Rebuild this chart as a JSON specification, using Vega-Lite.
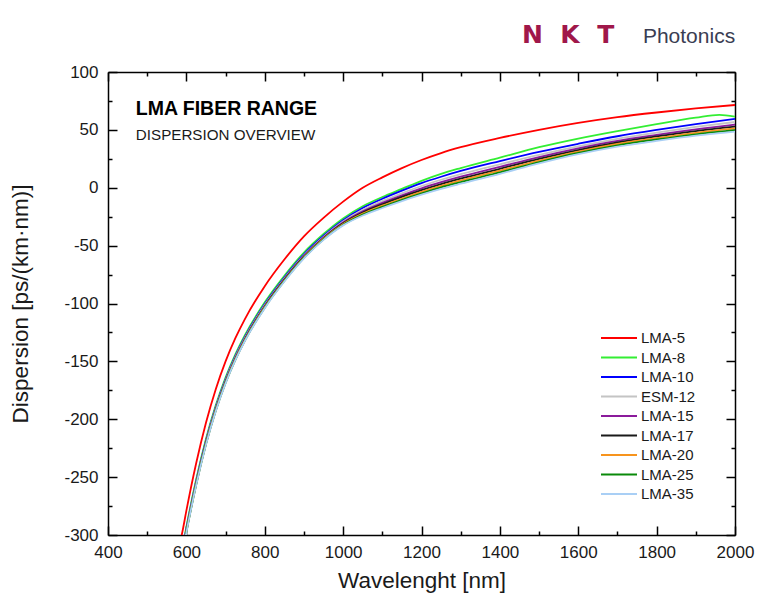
{
  "$schema": "https://vega.github.io/schema/vega-lite/v6.json",
  "width": 627,
  "height": 463,
  "autosize": {"type": "none"},
  "padding": {"left": 108, "top": 72, "right": 22, "bottom": 71},
  "background": "#ffffff",
  "config": {"view": {"stroke": null}, "font": "Liberation Sans"},
  "resolve": {"axis": {"x": "independent", "y": "independent"}},
  "layer": [
    {
      "data": {"values": [
        {"s":"LMA-5","w":585,"d":-305},{"s":"LMA-5","w":590,"d":-297},{"s":"LMA-5","w":600,"d":-279},{"s":"LMA-5","w":625,"d":-238},{"s":"LMA-5","w":650,"d":-203},{"s":"LMA-5","w":675,"d":-174},{"s":"LMA-5","w":700,"d":-150},{"s":"LMA-5","w":725,"d":-130},{"s":"LMA-5","w":750,"d":-113},{"s":"LMA-5","w":800,"d":-85},{"s":"LMA-5","w":850,"d":-62},{"s":"LMA-5","w":900,"d":-42},{"s":"LMA-5","w":950,"d":-26},{"s":"LMA-5","w":1000,"d":-12},{"s":"LMA-5","w":1050,"d":0},{"s":"LMA-5","w":1100,"d":9},{"s":"LMA-5","w":1150,"d":17},{"s":"LMA-5","w":1200,"d":24},{"s":"LMA-5","w":1250,"d":30},{"s":"LMA-5","w":1300,"d":35},{"s":"LMA-5","w":1400,"d":43},{"s":"LMA-5","w":1500,"d":50},{"s":"LMA-5","w":1600,"d":56},{"s":"LMA-5","w":1700,"d":61},{"s":"LMA-5","w":1800,"d":65},{"s":"LMA-5","w":1900,"d":68.5},{"s":"LMA-5","w":2000,"d":71.5},
        {"s":"LMA-8","w":585,"d":-319},{"s":"LMA-8","w":590,"d":-311},{"s":"LMA-8","w":600,"d":-293},{"s":"LMA-8","w":625,"d":-252},{"s":"LMA-8","w":650,"d":-217},{"s":"LMA-8","w":675,"d":-188},{"s":"LMA-8","w":700,"d":-164},{"s":"LMA-8","w":725,"d":-144},{"s":"LMA-8","w":750,"d":-127},{"s":"LMA-8","w":800,"d":-99},{"s":"LMA-8","w":850,"d":-76},{"s":"LMA-8","w":900,"d":-56},{"s":"LMA-8","w":950,"d":-40},{"s":"LMA-8","w":1000,"d":-26.5},{"s":"LMA-8","w":1050,"d":-16},{"s":"LMA-8","w":1100,"d":-8},{"s":"LMA-8","w":1150,"d":-1},{"s":"LMA-8","w":1200,"d":6},{"s":"LMA-8","w":1250,"d":12},{"s":"LMA-8","w":1300,"d":17},{"s":"LMA-8","w":1400,"d":26},{"s":"LMA-8","w":1500,"d":35},{"s":"LMA-8","w":1600,"d":42.5},{"s":"LMA-8","w":1700,"d":49},{"s":"LMA-8","w":1800,"d":55},{"s":"LMA-8","w":1900,"d":60.5},{"s":"LMA-8","w":1960,"d":63},{"s":"LMA-8","w":2000,"d":61.5},
        {"s":"LMA-10","w":585,"d":-320.5},{"s":"LMA-10","w":590,"d":-312.5},{"s":"LMA-10","w":600,"d":-294.5},{"s":"LMA-10","w":625,"d":-253.5},{"s":"LMA-10","w":650,"d":-218.5},{"s":"LMA-10","w":675,"d":-189.5},{"s":"LMA-10","w":700,"d":-165.5},{"s":"LMA-10","w":725,"d":-145.5},{"s":"LMA-10","w":750,"d":-128.5},{"s":"LMA-10","w":800,"d":-100.5},{"s":"LMA-10","w":850,"d":-77.5},{"s":"LMA-10","w":900,"d":-57.5},{"s":"LMA-10","w":950,"d":-41.5},{"s":"LMA-10","w":1000,"d":-28},{"s":"LMA-10","w":1050,"d":-17.5},{"s":"LMA-10","w":1100,"d":-9.5},{"s":"LMA-10","w":1150,"d":-2.5},{"s":"LMA-10","w":1200,"d":4},{"s":"LMA-10","w":1250,"d":9.5},{"s":"LMA-10","w":1300,"d":14.5},{"s":"LMA-10","w":1400,"d":23},{"s":"LMA-10","w":1500,"d":31},{"s":"LMA-10","w":1600,"d":38},{"s":"LMA-10","w":1700,"d":44.5},{"s":"LMA-10","w":1800,"d":50},{"s":"LMA-10","w":1900,"d":55},{"s":"LMA-10","w":2000,"d":59.5},
        {"s":"ESM-12","w":585,"d":-321.4},{"s":"ESM-12","w":590,"d":-313.4},{"s":"ESM-12","w":600,"d":-295.4},{"s":"ESM-12","w":625,"d":-254.4},{"s":"ESM-12","w":650,"d":-219.4},{"s":"ESM-12","w":675,"d":-190.4},{"s":"ESM-12","w":700,"d":-166.4},{"s":"ESM-12","w":725,"d":-146.4},{"s":"ESM-12","w":750,"d":-129.4},{"s":"ESM-12","w":800,"d":-101.4},{"s":"ESM-12","w":850,"d":-78.4},{"s":"ESM-12","w":900,"d":-58.4},{"s":"ESM-12","w":950,"d":-42.4},{"s":"ESM-12","w":1000,"d":-29.1},{"s":"ESM-12","w":1050,"d":-19.1},{"s":"ESM-12","w":1100,"d":-11.5},{"s":"ESM-12","w":1150,"d":-4.8},{"s":"ESM-12","w":1200,"d":1.5},{"s":"ESM-12","w":1250,"d":6.9},{"s":"ESM-12","w":1300,"d":11.8},{"s":"ESM-12","w":1400,"d":20.3},{"s":"ESM-12","w":1500,"d":28.5},{"s":"ESM-12","w":1600,"d":35.8},{"s":"ESM-12","w":1700,"d":42.3},{"s":"ESM-12","w":1800,"d":47.6},{"s":"ESM-12","w":1900,"d":52.5},{"s":"ESM-12","w":2000,"d":56.8},
        {"s":"LMA-15","w":585,"d":-322.1},{"s":"LMA-15","w":590,"d":-314.1},{"s":"LMA-15","w":600,"d":-296.1},{"s":"LMA-15","w":625,"d":-255.1},{"s":"LMA-15","w":650,"d":-220.1},{"s":"LMA-15","w":675,"d":-191.1},{"s":"LMA-15","w":700,"d":-167.1},{"s":"LMA-15","w":725,"d":-147.1},{"s":"LMA-15","w":750,"d":-130.1},{"s":"LMA-15","w":800,"d":-102.1},{"s":"LMA-15","w":850,"d":-79.1},{"s":"LMA-15","w":900,"d":-59.1},{"s":"LMA-15","w":950,"d":-43.1},{"s":"LMA-15","w":1000,"d":-30},{"s":"LMA-15","w":1050,"d":-20.4},{"s":"LMA-15","w":1100,"d":-13.1},{"s":"LMA-15","w":1150,"d":-6.6},{"s":"LMA-15","w":1200,"d":-0.5},{"s":"LMA-15","w":1250,"d":4.8},{"s":"LMA-15","w":1300,"d":9.6},{"s":"LMA-15","w":1400,"d":18.1},{"s":"LMA-15","w":1500,"d":26.5},{"s":"LMA-15","w":1600,"d":34},{"s":"LMA-15","w":1700,"d":40.5},{"s":"LMA-15","w":1800,"d":45.7},{"s":"LMA-15","w":1900,"d":50.5},{"s":"LMA-15","w":2000,"d":54.6},
        {"s":"LMA-17","w":585,"d":-322.6},{"s":"LMA-17","w":590,"d":-314.6},{"s":"LMA-17","w":600,"d":-296.6},{"s":"LMA-17","w":625,"d":-255.6},{"s":"LMA-17","w":650,"d":-220.6},{"s":"LMA-17","w":675,"d":-191.6},{"s":"LMA-17","w":700,"d":-167.6},{"s":"LMA-17","w":725,"d":-147.6},{"s":"LMA-17","w":750,"d":-130.6},{"s":"LMA-17","w":800,"d":-102.6},{"s":"LMA-17","w":850,"d":-79.6},{"s":"LMA-17","w":900,"d":-59.6},{"s":"LMA-17","w":950,"d":-43.6},{"s":"LMA-17","w":1000,"d":-30.7},{"s":"LMA-17","w":1050,"d":-21.4},{"s":"LMA-17","w":1100,"d":-14.3},{"s":"LMA-17","w":1150,"d":-7.9},{"s":"LMA-17","w":1200,"d":-2},{"s":"LMA-17","w":1250,"d":3.2},{"s":"LMA-17","w":1300,"d":7.9},{"s":"LMA-17","w":1400,"d":16.4},{"s":"LMA-17","w":1500,"d":25},{"s":"LMA-17","w":1600,"d":32.6},{"s":"LMA-17","w":1700,"d":39.1},{"s":"LMA-17","w":1800,"d":44.3},{"s":"LMA-17","w":1900,"d":49},{"s":"LMA-17","w":2000,"d":52.9},
        {"s":"LMA-20","w":585,"d":-323.1},{"s":"LMA-20","w":590,"d":-315.1},{"s":"LMA-20","w":600,"d":-297.1},{"s":"LMA-20","w":625,"d":-256.1},{"s":"LMA-20","w":650,"d":-221.1},{"s":"LMA-20","w":675,"d":-192.1},{"s":"LMA-20","w":700,"d":-168.1},{"s":"LMA-20","w":725,"d":-148.1},{"s":"LMA-20","w":750,"d":-131.1},{"s":"LMA-20","w":800,"d":-103.1},{"s":"LMA-20","w":850,"d":-80.1},{"s":"LMA-20","w":900,"d":-60.1},{"s":"LMA-20","w":950,"d":-44.1},{"s":"LMA-20","w":1000,"d":-31.4},{"s":"LMA-20","w":1050,"d":-22.4},{"s":"LMA-20","w":1100,"d":-15.5},{"s":"LMA-20","w":1150,"d":-9.3},{"s":"LMA-20","w":1200,"d":-3.5},{"s":"LMA-20","w":1250,"d":1.6},{"s":"LMA-20","w":1300,"d":6.3},{"s":"LMA-20","w":1400,"d":14.8},{"s":"LMA-20","w":1500,"d":23.5},{"s":"LMA-20","w":1600,"d":31.3},{"s":"LMA-20","w":1700,"d":37.8},{"s":"LMA-20","w":1800,"d":42.9},{"s":"LMA-20","w":1900,"d":47.5},{"s":"LMA-20","w":2000,"d":51.3},
        {"s":"LMA-25","w":585,"d":-323.6},{"s":"LMA-25","w":590,"d":-315.6},{"s":"LMA-25","w":600,"d":-297.6},{"s":"LMA-25","w":625,"d":-256.6},{"s":"LMA-25","w":650,"d":-221.6},{"s":"LMA-25","w":675,"d":-192.6},{"s":"LMA-25","w":700,"d":-168.6},{"s":"LMA-25","w":725,"d":-148.6},{"s":"LMA-25","w":750,"d":-131.6},{"s":"LMA-25","w":800,"d":-103.6},{"s":"LMA-25","w":850,"d":-80.6},{"s":"LMA-25","w":900,"d":-60.6},{"s":"LMA-25","w":950,"d":-44.6},{"s":"LMA-25","w":1000,"d":-32},{"s":"LMA-25","w":1050,"d":-23.2},{"s":"LMA-25","w":1100,"d":-16.5},{"s":"LMA-25","w":1150,"d":-10.4},{"s":"LMA-25","w":1200,"d":-4.8},{"s":"LMA-25","w":1250,"d":0.3},{"s":"LMA-25","w":1300,"d":4.8},{"s":"LMA-25","w":1400,"d":13.3},{"s":"LMA-25","w":1500,"d":22.2},{"s":"LMA-25","w":1600,"d":30.1},{"s":"LMA-25","w":1700,"d":36.6},{"s":"LMA-25","w":1800,"d":41.7},{"s":"LMA-25","w":1900,"d":46.2},{"s":"LMA-25","w":2000,"d":49.8},
        {"s":"LMA-35","w":585,"d":-324},{"s":"LMA-35","w":590,"d":-316},{"s":"LMA-35","w":600,"d":-298},{"s":"LMA-35","w":625,"d":-257},{"s":"LMA-35","w":650,"d":-222},{"s":"LMA-35","w":675,"d":-193},{"s":"LMA-35","w":700,"d":-169},{"s":"LMA-35","w":725,"d":-149},{"s":"LMA-35","w":750,"d":-132},{"s":"LMA-35","w":800,"d":-104},{"s":"LMA-35","w":850,"d":-81},{"s":"LMA-35","w":900,"d":-61},{"s":"LMA-35","w":950,"d":-45},{"s":"LMA-35","w":1000,"d":-32.5},{"s":"LMA-35","w":1050,"d":-24},{"s":"LMA-35","w":1100,"d":-17.5},{"s":"LMA-35","w":1150,"d":-11.5},{"s":"LMA-35","w":1200,"d":-6},{"s":"LMA-35","w":1250,"d":-1},{"s":"LMA-35","w":1300,"d":3.5},{"s":"LMA-35","w":1400,"d":12},{"s":"LMA-35","w":1500,"d":21},{"s":"LMA-35","w":1600,"d":29},{"s":"LMA-35","w":1700,"d":35.5},{"s":"LMA-35","w":1800,"d":40.5},{"s":"LMA-35","w":1900,"d":45},{"s":"LMA-35","w":2000,"d":48.5}
      ]},
      "mark": {"type": "line", "clip": true, "strokeWidth": 1.8, "interpolate": "monotone"},
      "encoding": {
        "x": {"field": "w", "type": "quantitative",
          "scale": {"domain": [400, 2000], "nice": false, "zero": false},
          "axis": {"orient": "bottom", "values": [400,500,600,700,800,900,1000,1100,1200,1300,1400,1500,1600,1700,1800,1900,2000],
            "labelExpr": "datum.value % 200 === 0 ? '' + datum.value : ''",
            "tickSize": {"condition": {"test": "datum.value % 200 === 0", "value": -9}, "value": -4},
            "tickWidth": 1.5, "tickColor": "#000", "domainColor": "#000", "domainWidth": 1.5,
            "labelFont": "Liberation Sans", "labelFontSize": 17, "labelColor": "#1a1a1a", "labelPadding": 18,
            "labelOverlap": false, "labelFlush": false, "grid": false,
            "title": "Wavelenght [nm]", "titleFont": "Liberation Sans", "titleFontSize": 22.5, "titleFontWeight": "normal", "titleColor": "#1a1a1a", "titlePadding": 4}},
        "y": {"field": "d", "type": "quantitative",
          "scale": {"domain": [-300, 100], "nice": false, "zero": false},
          "axis": {"orient": "left", "values": [-300,-275,-250,-225,-200,-175,-150,-125,-100,-75,-50,-25,0,25,50,75,100],
            "labelExpr": "datum.value % 50 === 0 ? '' + datum.value : ''",
            "tickSize": {"condition": {"test": "datum.value % 50 === 0", "value": -9}, "value": -4},
            "tickWidth": 1.5, "tickColor": "#000", "domainColor": "#000", "domainWidth": 1.5,
            "labelFont": "Liberation Sans", "labelFontSize": 17, "labelColor": "#1a1a1a", "labelPadding": 19,
            "labelOverlap": false, "labelFlush": false, "grid": false,
            "title": "Dispersion [ps/(km·nm)]", "titleFont": "Liberation Sans", "titleFontSize": 22.5, "titleFontWeight": "normal", "titleColor": "#1a1a1a", "titlePadding": 31}},
        "color": {"field": "s", "type": "nominal",
          "scale": {"domain": ["LMA-5","LMA-8","LMA-10","ESM-12","LMA-15","LMA-17","LMA-20","LMA-25","LMA-35"],
                    "range": ["#ff0000","#33ee33","#0000ff","#c4c4c4","#8b1a9b","#1a1a1a","#f7941d","#0a8a0a","#a9cff5"]},
          "legend": {"orient": "none", "legendX": 501, "legendY": 256, "title": null, "symbolType": "M-2,0L2,0", "symbolSize": 324, "symbolStrokeWidth": 2,
            "labelFont": "Liberation Sans", "labelFontSize": 15, "labelColor": "#1a1a1a", "labelOffset": 12, "rowPadding": 1.5, "padding": 0}}
      }
    },
    {
      "mark": {"type": "rule", "color": "#000", "strokeWidth": 1.5},
      "encoding": {
        "x": {"datum": 400, "type": "quantitative",
          "scale": {"domain": [400, 2000], "nice": false, "zero": false},
          "axis": {"orient": "top", "values": [400,500,600,700,800,900,1000,1100,1200,1300,1400,1500,1600,1700,1800,1900,2000],
            "labels": false, "title": null, "grid": false,
            "tickSize": {"condition": {"test": "datum.value % 200 === 0", "value": -9}, "value": -4},
            "tickWidth": 1.5, "tickColor": "#000", "domainColor": "#000", "domainWidth": 1.5}},
        "x2": {"datum": 2000},
        "y": {"datum": 0, "type": "quantitative",
          "scale": {"domain": [-300, 100], "nice": false, "zero": false},
          "axis": {"orient": "right", "values": [-300,-275,-250,-225,-200,-175,-150,-125,-100,-75,-50,-25,0,25,50,75,100],
            "labels": false, "title": null, "grid": false,
            "tickSize": {"condition": {"test": "datum.value % 50 === 0", "value": -9}, "value": -4},
            "tickWidth": 1.5, "tickColor": "#000", "domainColor": "#000", "domainWidth": 1.5}}
      }
    },
    {
      "data": {"values": [{}]},
      "mark": {"type": "text", "align": "left", "baseline": "alphabetic", "font": "Liberation Sans", "fontSize": 19.5, "fontWeight": "bold", "fill": "#000"},
      "encoding": {
        "x": {"datum": 471, "type": "quantitative", "scale": {"domain": [400, 2000], "nice": false, "zero": false}, "axis": null},
        "y": {"datum": 63, "type": "quantitative", "scale": {"domain": [-300, 100], "nice": false, "zero": false}, "axis": null},
        "text": {"value": "LMA FIBER RANGE"}
      }
    },
    {
      "data": {"values": [{}]},
      "mark": {"type": "text", "align": "left", "baseline": "alphabetic", "font": "Liberation Sans", "fontSize": 15.2, "fill": "#1a1a1a"},
      "encoding": {
        "x": {"datum": 471, "type": "quantitative", "scale": {"domain": [400, 2000], "nice": false, "zero": false}, "axis": null},
        "y": {"datum": 41.5, "type": "quantitative", "scale": {"domain": [-300, 100], "nice": false, "zero": false}, "axis": null},
        "text": {"value": "DISPERSION OVERVIEW"}
      }
    },
    {
      "data": {"values": [{}]},
      "mark": {"type": "text", "align": "center", "baseline": "alphabetic", "font": "DejaVu Sans", "fontSize": 25, "fontWeight": "bold", "fill": "#a0174a"},
      "encoding": {
        "x": {"datum": 1483, "type": "quantitative", "scale": {"domain": [400, 2000], "nice": false, "zero": false}, "axis": null},
        "y": {"datum": 125, "type": "quantitative", "scale": {"domain": [-300, 100], "nice": false, "zero": false}, "axis": null},
        "text": {"value": "N"}
      }
    },
    {
      "data": {"values": [{}]},
      "mark": {"type": "text", "align": "center", "baseline": "alphabetic", "font": "DejaVu Sans", "fontSize": 25, "fontWeight": "bold", "fill": "#a0174a"},
      "encoding": {
        "x": {"datum": 1579, "type": "quantitative", "scale": {"domain": [400, 2000], "nice": false, "zero": false}, "axis": null},
        "y": {"datum": 125, "type": "quantitative", "scale": {"domain": [-300, 100], "nice": false, "zero": false}, "axis": null},
        "text": {"value": "K"}
      }
    },
    {
      "data": {"values": [{}]},
      "mark": {"type": "text", "align": "center", "baseline": "alphabetic", "font": "DejaVu Sans", "fontSize": 25, "fontWeight": "bold", "fill": "#a0174a"},
      "encoding": {
        "x": {"datum": 1670, "type": "quantitative", "scale": {"domain": [400, 2000], "nice": false, "zero": false}, "axis": null},
        "y": {"datum": 125, "type": "quantitative", "scale": {"domain": [-300, 100], "nice": false, "zero": false}, "axis": null},
        "text": {"value": "T"}
      }
    },
    {
      "data": {"values": [{}]},
      "mark": {"type": "text", "align": "left", "baseline": "alphabetic", "font": "Liberation Sans", "fontSize": 21, "fill": "#3a3d52"},
      "encoding": {
        "x": {"datum": 1765, "type": "quantitative", "scale": {"domain": [400, 2000], "nice": false, "zero": false}, "axis": null},
        "y": {"datum": 125, "type": "quantitative", "scale": {"domain": [-300, 100], "nice": false, "zero": false}, "axis": null},
        "text": {"value": "Photonics"}
      }
    }
  ]
}
